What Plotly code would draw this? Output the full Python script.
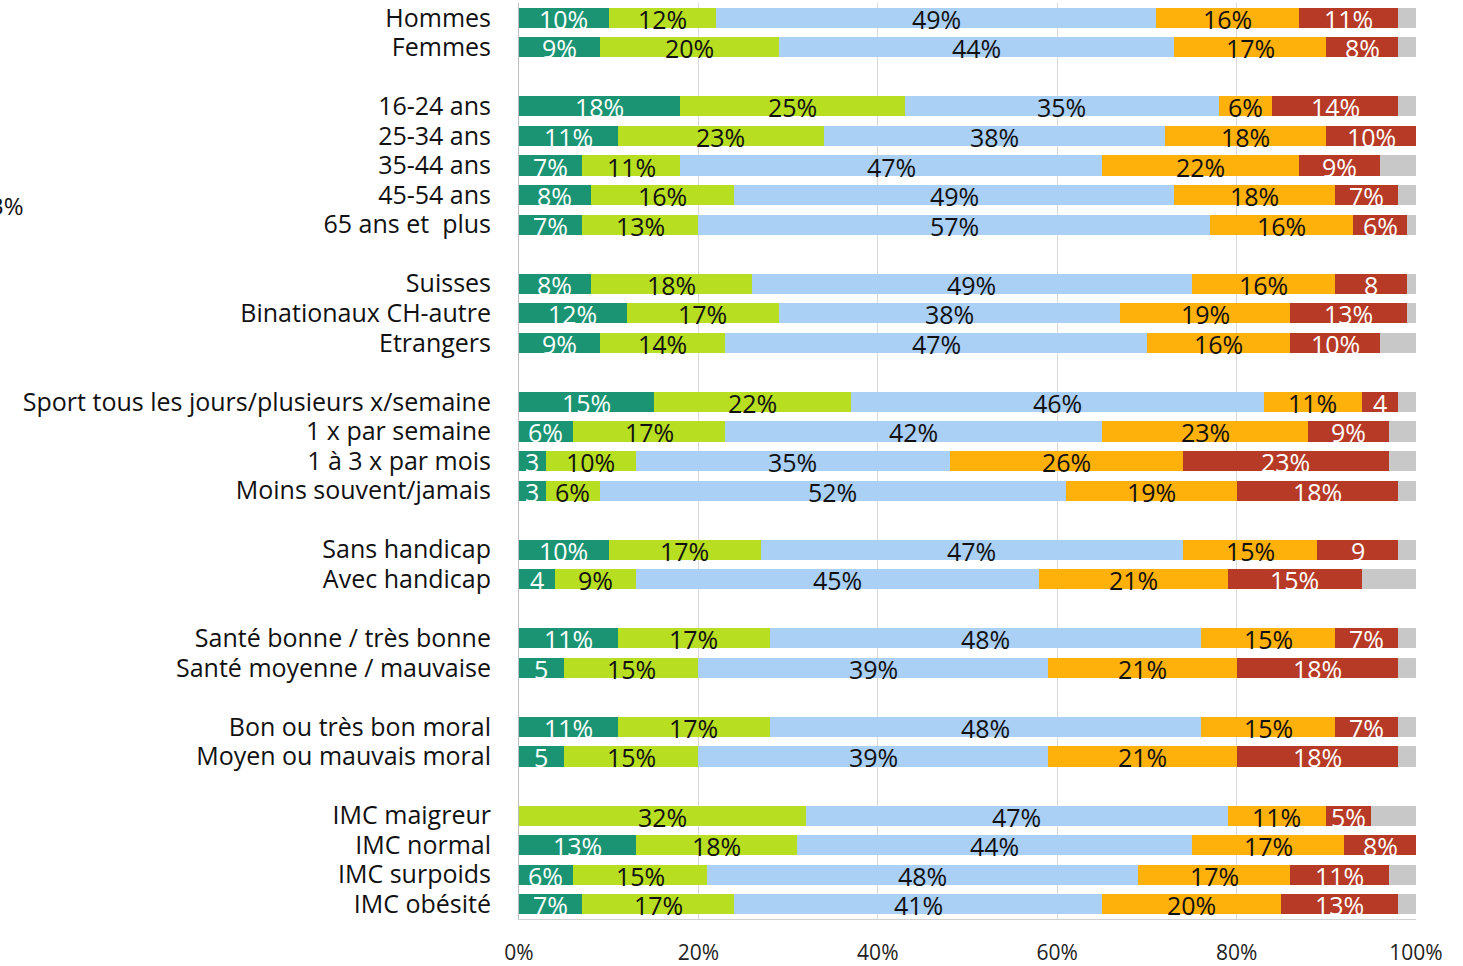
import plotly.graph_objects as go

# groups of rows, a blank row is put between groups
groups = [
    ["Hommes", "Femmes"],
    ["16-24 ans", "25-34 ans", "35-44 ans", "45-54 ans", "65 ans et  plus"],
    ["Suisses", "Binationaux CH-autre", "Etrangers"],
    ["Sport tous les jours/plusieurs x/semaine", "1 x par semaine", "1 à 3 x par mois", "Moins souvent/jamais"],
    ["Sans handicap", "Avec handicap"],
    ["Santé bonne / très bonne", "Santé moyenne / mauvaise"],
    ["Bon ou très bon moral", "Moyen ou mauvais moral"],
    ["IMC maigreur", "IMC normal", "IMC surpoids", "IMC obésité"],
]

s1 = [10, 9, 18, 11, 7, 8, 7, 8, 12, 9, 15, 6, 3, 3, 10, 4, 11, 5, 11, 5, 0, 13, 6, 7]
s2 = [12, 20, 25, 23, 11, 16, 13, 18, 17, 14, 22, 17, 10, 6, 17, 9, 17, 15, 17, 15, 32, 18, 15, 17]
s3 = [49, 44, 35, 38, 47, 49, 57, 49, 38, 47, 46, 42, 35, 52, 47, 45, 48, 39, 48, 39, 47, 44, 48, 41]
s4 = [16, 17, 6, 18, 22, 18, 16, 16, 19, 16, 11, 23, 26, 19, 15, 21, 15, 21, 15, 21, 11, 17, 17, 20]
s5 = [11, 8, 14, 10, 9, 7, 6, 8, 13, 10, 4, 9, 23, 18, 9, 15, 7, 18, 7, 18, 5, 8, 11, 13]

# cells whose label is shown without the % sign: (row, series)
bare_labels = {(12, 0), (13, 0), (15, 0), (17, 0), (19, 0), (7, 4), (10, 4), (14, 4)}

x_ticks = [0, 20, 40, 60, 80, 100]

series = [s1, s2, s3, s4, s5]
colors = ["#1b9474", "#b8de22", "#abd0f5", "#ffb10b", "#b63a26"]
text_colors = ["white", "#111111", "#111111", "#111111", "white"]
rest_color = "#c8c8c8"

labels = [lab for g in groups for lab in g]
full_cats = []
for i, g in enumerate(groups):
    if i > 0:
        full_cats.append(" " * i)
    full_cats.extend(g)

rest = [100 - sum(s[i] for s in series) for i in range(len(labels))]

font_family = "Open Sans, Noto Sans, sans-serif"

fig = go.Figure()
for k, (vals, col) in enumerate(zip(series, colors)):
    fig.add_trace(go.Bar(x=vals, y=labels, orientation="h", marker=dict(color=col, line=dict(width=0)),
                         hoverinfo="skip", showlegend=False))
fig.add_trace(go.Bar(x=rest, y=labels, orientation="h", marker=dict(color=rest_color, line=dict(width=0)),
                     hoverinfo="skip", showlegend=False))

# labels centred on each segment
cum = [0] * len(labels)
for k, (vals, tcol) in enumerate(zip(series, text_colors)):
    for i, v in enumerate(vals):
        if v > 0:
            fig.add_annotation(x=cum[i] + v / 2, y=labels[i],
                               text=f"{v}" if (i, k) in bare_labels else f"{v}%",
                               showarrow=False, yshift=-1, xanchor="center", yanchor="middle",
                               font=dict(family=font_family, size=25, color=tcol))
        cum[i] += v

# fragment of a label cut off at the left edge
fig.add_annotation(text="3%", xref="paper", yref="paper", x=(26 - 519) / 897, y=1 - (205 - 3) / 916,
                   xanchor="right", yanchor="middle", showarrow=False,
                   font=dict(family=font_family, size=24, color="#111111"))

fig.update_layout(
    barmode="stack",
    bargap=0.32,
    width=1463,
    height=966,
    plot_bgcolor="white",
    paper_bgcolor="white",
    margin=dict(l=519, r=47, t=3, b=47, autoexpand=False),
    font=dict(family=font_family, color="#111111"),
    xaxis=dict(range=[0, 100], tickmode="array", tickvals=x_ticks, ticktext=[f"{t}%" for t in x_ticks],
               showgrid=True, gridcolor="#d9d9d9", gridwidth=1, zeroline=False,
               showline=True, linecolor="#d0d0d0", linewidth=1, automargin=False,
               tickfont=dict(size=21, color="#222222"), ticklabelstandoff=15),
    yaxis=dict(type="category", categoryorder="array", categoryarray=full_cats,
               range=[len(full_cats) - 0.5, -0.5], tickmode="array", tickvals=labels, ticktext=labels,
               showgrid=False, showline=True, linecolor="#bfbfbf", linewidth=1, automargin=False,
               tickfont=dict(size=25, color="#111111"), ticklabelstandoff=22),
)

fig.write_html("out.html", config={"displayModeBar": False},
               post_script="document.body.style.margin='0';")
